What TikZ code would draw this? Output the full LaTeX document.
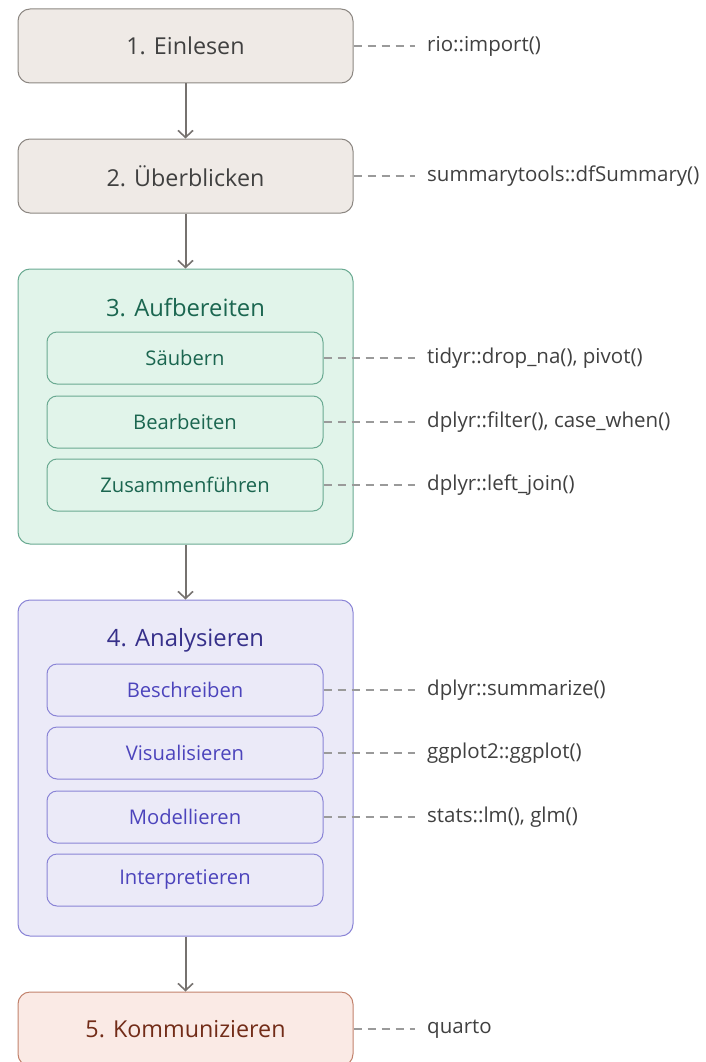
\documentclass[tikz,border=0pt]{standalone}
\usepackage{fontspec}
\setmainfont{Open Sans}
\usetikzlibrary{arrows.meta}
\definecolor{txtgray}{HTML}{404040}
\definecolor{grayfill}{HTML}{EFEAE6}
\definecolor{grayline}{HTML}{8C8782}
\definecolor{arrowgray}{HTML}{76726F}
\definecolor{dashgray}{HTML}{9A9A9A}
\definecolor{greenfill}{HTML}{E1F4EA}
\definecolor{greenline}{HTML}{6AAA92}
\definecolor{greentext}{HTML}{1B6650}
\definecolor{purplefill}{HTML}{EBEAF8}
\definecolor{purpleline}{HTML}{8A84D6}
\definecolor{purpletitle}{HTML}{36308A}
\definecolor{purpletext}{HTML}{4C44BC}
\definecolor{redfill}{HTML}{FAEAE5}
\definecolor{redline}{HTML}{C2826C}
\definecolor{redtext}{HTML}{722C18}
\tikzset{
  stagebox/.style={draw=grayline, fill=grayfill, line width=1pt, rounded corners=12pt,
    minimum width=335pt, minimum height=74pt, inner sep=0pt, text=txtgray,
    font=\fontsize{23.3}{27}\selectfont},
  container/.style={line width=1pt, rounded corners=12pt, minimum width=335pt, inner sep=0pt},
  titletext/.style={font=\fontsize{23.8}{28}\selectfont, inner sep=0pt},
  subbox/.style={line width=1pt, rounded corners=10pt, minimum width=276pt, minimum height=52pt,
    inner sep=0pt, font=\fontsize{20.2}{24}\selectfont},
  flow/.style={draw=arrowgray, line width=2pt, -{Straight Barb[length=7pt,width=15pt,line width=1.6pt]}},
  link/.style={draw=dashgray, line width=1.2pt, dash pattern=on 8pt off 6pt, shorten >=12pt},
  tool/.style={anchor=west, inner sep=0pt, text=txtgray, font=\fontsize{20.5}{24}\selectfont}
}
\begin{document}
\begin{tikzpicture}[x=1pt,y=-1pt]
\useasboundingbox (0,0) rectangle (705,1062);
\clip (0,0) rectangle (705,1062);
% main stages
\node[stagebox] (s1) at (185.5,46) {1. Einlesen};
\node[stagebox] (s2) at (185.5,176) {2. Überblicken};
\node[container, draw=greenline, fill=greenfill, minimum height=275pt] (s3) at (185.5,406.5) {};
\node[titletext, text=greentext] (t3) at (185.5,308) {3. Aufbereiten};
\node[subbox, draw=greenline, fill=greenfill, text=greentext] (a1) at (185,358) {Säubern};
\node[subbox, draw=greenline, fill=greenfill, text=greentext] (a2) at (185,422) {Bearbeiten};
\node[subbox, draw=greenline, fill=greenfill, text=greentext] (a3) at (185,485) {Zusammenführen};
\node[container, draw=purpleline, fill=purplefill, minimum height=336pt] (s4) at (185.5,768) {};
\node[titletext, text=purpletitle] (t4) at (185.5,640) {4. Analysieren};
\node[subbox, draw=purpleline, fill=purplefill, text=purpletext] (b1) at (185,690) {Beschreiben};
\node[subbox, draw=purpleline, fill=purplefill, text=purpletext] (b2) at (185,753) {Visualisieren};
\node[subbox, draw=purpleline, fill=purplefill, text=purpletext] (b3) at (185,817) {Modellieren};
\node[subbox, draw=purpleline, fill=purplefill, text=purpletext] (b4) at (185,880) {Interpretieren};
\node[stagebox, draw=redline, fill=redfill, text=redtext] (s5) at (185.5,1029) {5. Kommunizieren};
% flow arrows
\draw[flow] (s1) -- (s2);
\draw[flow] (s2) -- (s3);
\draw[flow] (s3) -- (s4);
\draw[flow] (s4) -- (s5);
% tool labels
\node[tool] (l1) at (427,46) {rio::import()};
\node[tool] (l2) at (427,176) {summarytools::dfSummary()};
\node[tool] (l3) at (427,358) {tidyr::drop\_na(), pivot()};
\node[tool] (l4) at (427,422) {dplyr::filter(), case\_when()};
\node[tool] (l5) at (427,485) {dplyr::left\_join()};
\node[tool] (l6) at (427,690) {dplyr::summarize()};
\node[tool] (l7) at (427,753) {ggplot2::ggplot()};
\node[tool] (l8) at (427,817) {stats::lm(), glm()};
\node[tool] (l9) at (427,1029) {quarto};
\draw[link] (s1.east) -- (l1.west);
\draw[link] (s2.east) -- (l2.west);
\draw[link] (a1.east) -- (l3.west);
\draw[link] (a2.east) -- (l4.west);
\draw[link] (a3.east) -- (l5.west);
\draw[link] (b1.east) -- (l6.west);
\draw[link] (b2.east) -- (l7.west);
\draw[link] (b3.east) -- (l8.west);
\draw[link] (s5.east) -- (l9.west);
\end{tikzpicture}
\end{document}
